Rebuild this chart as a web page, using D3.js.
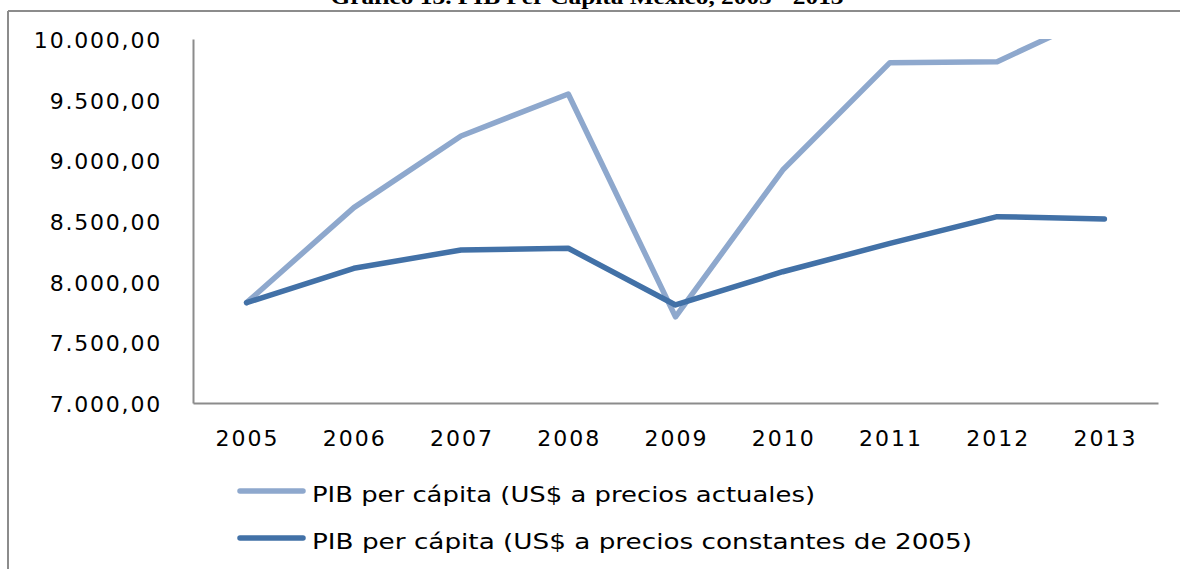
<!DOCTYPE html>
<html><head><meta charset="utf-8">
<script src="https://cdn.jsdelivr.net/npm/d3@7"></script>
<style>body{margin:0;background:#fff;overflow:hidden}svg{display:block}</style>
</head><body>
<svg id="c" width="1180" height="569"></svg>
<script>
const years = ["2005","2006","2007","2008","2009","2010","2011","2012","2013"];
const actuales = [7827, 8610, 9201, 9547, 7710, 8920, 9805, 9813, 10225];
const constantes = [7827, 8110, 8261, 8275, 7808, 8082, 8315, 8536, 8517];
const yTicks = [7000, 7500, 8000, 8500, 9000, 9500, 10000];
const seriesNames = ["PIB per cápita (US$ a precios actuales)", "PIB per cápita (US$ a precios constantes de 2005)"];
const colors = ["#8ea8cd", "#4271a7"];
const title = "Gráfico 13. PIB Per Cápita México, 2005 - 2013";

const svg = d3.select("#c");
const L = 193, R = 1158, T = 39, B = 403;
const x = d3.scaleBand().domain(years).range([L, R]);
const y = d3.scaleLinear().domain([7000, 10000]).range([B, T]);

// title (clipped at top, as in the reference)
svg.append("text").attr("x", 587).attr("y", 4)
  .attr("text-anchor", "middle")
  .attr("font-family", "Liberation Serif, serif").attr("font-weight", "bold")
  .attr("font-size", 20).attr("textLength", 513).attr("lengthAdjust", "spacingAndGlyphs")
  .text(title);

// chart border
svg.append("line").attr("x1", 8).attr("x2", 1180).attr("y1", 11).attr("y2", 11)
  .attr("stroke", "#8c8c8c").attr("stroke-width", 2);
svg.append("line").attr("x1", 8).attr("x2", 8).attr("y1", 11).attr("y2", 569)
  .attr("stroke", "#8c8c8c").attr("stroke-width", 2);

// axes
const yAxis = d3.axisLeft(y).tickValues(yTicks).tickSize(0).tickPadding(31)
  .tickFormat(d => d3.format(",.2f")(d).replace(/,/g, "#").replace(".", ",").replace(/#/g, "."));
const gy = svg.append("g").attr("transform", `translate(${L},0)`).call(yAxis);
gy.select(".domain").attr("stroke", "#8c8c8c").attr("stroke-width", 2);
gy.selectAll("text").attr("font-family", "DejaVu Sans, sans-serif").attr("font-size", 22)
  .attr("fill", "#000").attr("letter-spacing", 1.8).attr("dy", "0.38em");

const xAxis = d3.axisBottom(x).tickSize(0).tickPadding(27);
const gx = svg.append("g").attr("transform", `translate(0,${B})`).call(xAxis);
gx.select(".domain").attr("stroke", "#8c8c8c").attr("stroke-width", 2);
gx.selectAll("text").attr("font-family", "DejaVu Sans, sans-serif").attr("font-size", 22)
  .attr("fill", "#000").attr("letter-spacing", 2).attr("dx", 1);

// clip
svg.append("clipPath").attr("id", "clip").append("rect")
  .attr("x", L).attr("y", T).attr("width", R - L + 20).attr("height", B - T);

const line = d3.line().x((d, i) => x(years[i]) + x.bandwidth() / 2).y(d => y(d));
const g = svg.append("g").attr("clip-path", "url(#clip)");
[actuales, constantes].forEach((s, i) => {
  g.append("path").datum(s).attr("d", line).attr("fill", "none")
    .attr("stroke", colors[i]).attr("stroke-width", 5.5)
    .attr("stroke-linejoin", "round").attr("stroke-linecap", "round");
});

// legend
const legY = [491, 538];
const legW = [503, 660];
seriesNames.forEach((n, i) => {
  svg.append("line").attr("x1", 240).attr("x2", 303).attr("y1", legY[i]).attr("y2", legY[i])
    .attr("stroke", colors[i]).attr("stroke-width", 5.5).attr("stroke-linecap", "round");
  svg.append("text").attr("x", 312).attr("y", legY[i] + 11)
    .attr("font-family", "DejaVu Sans, sans-serif").attr("font-size", 21).attr("fill", "#000")
    .attr("textLength", legW[i]).attr("lengthAdjust", "spacingAndGlyphs")
    .text(n);
});
</script>
</body></html>
